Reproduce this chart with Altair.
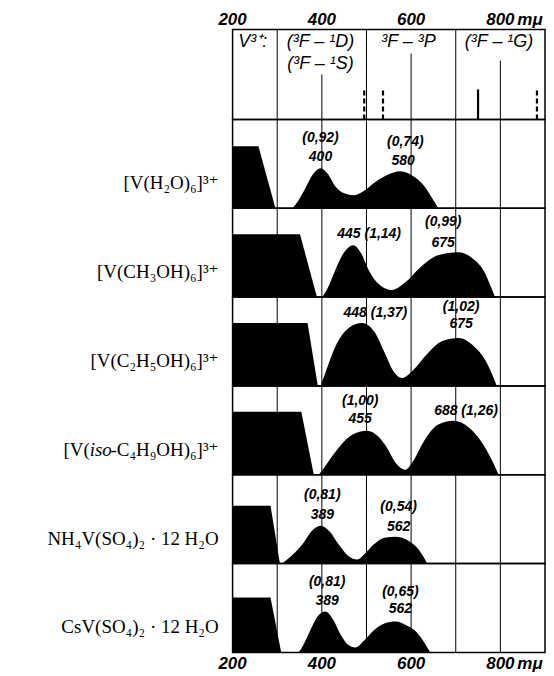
import altair as alt
import pandas as pd

# ---------------- data ----------------
GRID = [300, 400, 500, 600, 700, 800]
AXIS_WL = [200, 400, 600, 800]
AXIS_TXT = ["200", "400", "600", "800"]
UNIT = "mμ"

COMPOUNDS = [
    "[V(H₂O)₆]³⁺",
    "[V(CH₃OH)₆]³⁺",
    "[V(C₂H₅OH)₆]³⁺",
    "[V(iso-C₄H₉OH)₆]³⁺",
    "NH₄V(SO₄)₂ · 12 H₂O",
    "CsV(SO₄)₂ · 12 H₂O",
]
# the fourth name is drawn in three pieces so that "iso" can be italic
ISO_PARTS = ["[V(", "iso", "-C₄H₉OH)₆]³⁺"]

# UV absorption edge (plateau then steep drop)
EDGE_WL = [[200, 258, 296], [200, 351, 389], [200, 368, 391],
           [200, 354, 382], [200, 285, 306], [200, 285, 309]]
EDGE_H = [[62, 62, 0], [63, 63, 0], [63, 63, 0],
          [63, 63, 0], [58, 58, 0], [55, 55, 0]]

# the two d-d bands
BAND_WL = [
    [334, 345, 363, 380, 397, 414, 430, 450, 471, 493, 516, 545, 576, 605, 628, 650, 661],
    [401, 412, 430, 450, 470, 488, 505, 530, 557, 585, 621, 660, 706, 740, 762, 780, 788],
    [397, 407, 430, 460, 490, 518, 542, 560, 580, 605, 636, 670, 706, 740, 766, 785, 792],
    [393, 405, 434, 468, 501, 527, 546, 565, 587, 605, 628, 660, 695, 730, 762, 787, 796],
    [311, 325, 356, 378, 397, 418, 438, 458, 479, 497, 516, 540, 565, 590, 613, 630, 636],
    [348, 358, 375, 392, 408, 425, 442, 458, 475, 495, 516, 540, 565, 590, 613, 635, 643],
]
BAND_H = [
    [0, 6, 20, 34, 40, 34, 22, 15, 13, 17, 25, 33, 37, 32, 23, 8, 0],
    [0, 8, 27, 45, 52, 44, 27, 12, 7, 14, 30, 42, 45, 38, 27, 9, 0],
    [0, 12, 39, 58, 63, 54, 32, 15, 8, 16, 32, 45, 48, 40, 26, 8, 0],
    [0, 7, 25, 40, 44, 38, 27, 12, 5, 14, 33, 50, 54, 47, 30, 9, 0],
    [0, 5, 19, 33, 38, 32, 19, 8, 4, 10, 19, 26, 27, 24, 16, 5, 0],
    [0, 7, 23, 37, 41, 33, 18, 8, 5, 12, 22, 29, 31, 27, 20, 6, 0],
]

# peak annotations
PEAK_TEXT = [
    ["(0,92)", "400", "(0,74)", "580"],
    ["445 (1,14)", "(0,99)", "675"],
    ["448 (1,37)", "(1,02)", "675"],
    ["(1,00)", "455", "688 (1,26)"],
    ["(0,81)", "389", "(0,54)", "562"],
    ["(0,81)", "389", "(0,65)", "562"],
]
PEAK_TEXT_WL = [[397, 397, 587, 582], [506, 672, 672], [520, 712, 712],
                [486, 486, 723], [401, 401, 572, 572], [412, 412, 576, 576]]
PEAK_TEXT_H = [[70, 51, 66, 47], [63, 75, 54], [73, 79, 62],
               [74, 56, 64], [69, 49, 57, 37], [71, 52, 61, 43]]

# header: term symbols and transition markers
LEVELS = ["V³⁺:", "(³F – ¹D)", "(³F – ¹S)", "³F – ³P", "(³F – ¹G)"]
LEVEL_WL = [245, 397, 397, 594, 797]
LEVEL_H = [78, 78, 56, 78, 78]
HEADER_LINE_WL = [300, 400, 500, 600, 700, 800]
HEADER_LINE_TOP = [90, 45, 90, 66, 90, 59]
TRANS_WL = [495, 537, 750, 882]
TRANS_H = [29, 29, 30, 31]
TRANS_DASHED = [True, True, False, True]

# ---------------- chart ----------------
W = 313
PH = 89
HH = 90
XS = alt.Scale(domain=[200, 900], nice=False, zero=False)
NUM_FONT = "Liberation Sans, sans-serif"
SERIF = "Liberation Serif, DejaVu Serif, serif"


def xenc():
    return alt.X("wl:Q", scale=XS, axis=None)


def yenc(top):
    return alt.Y("h:Q", scale=alt.Scale(domain=[0, top], nice=False, zero=False), axis=None)


def axis_labels(ypix):
    df = pd.DataFrame({"wl": AXIS_WL, "t": AXIS_TXT})
    nums = alt.Chart(df).mark_text(
        font=NUM_FONT, fontSize=17, fontStyle="italic", fontWeight="bold",
        baseline="alphabetic", align="center", color="black"
    ).encode(x=xenc(), y=alt.value(ypix), text="t:N")
    unit = alt.Chart(pd.DataFrame({"wl": [AXIS_WL[-1]], "t": [UNIT]})).mark_text(
        font=NUM_FONT, fontSize=17, fontStyle="italic", fontWeight="bold",
        baseline="alphabetic", align="left", dx=17, color="black"
    ).encode(x=xenc(), y=alt.value(ypix), text="t:N")
    return [nums, unit]


def name_text(t, xpix, italic=False):
    kw = dict(font=SERIF, fontSize=19, baseline="middle", align="right", color="black")
    if italic:
        kw["fontStyle"] = "italic"
    return alt.Chart(pd.DataFrame({"t": [t]})).mark_text(**kw).encode(
        x=alt.value(xpix), y=alt.value(64), text="t:N")


# header panel
hl = pd.DataFrame({"wl": HEADER_LINE_WL, "h": [0] * len(HEADER_LINE_WL), "h2": HEADER_LINE_TOP})
tr = pd.DataFrame({"wl": TRANS_WL, "h": [0] * len(TRANS_WL), "h2": TRANS_H, "d": TRANS_DASHED})
lv = pd.DataFrame({"wl": LEVEL_WL, "h": LEVEL_H, "t": LEVELS})

header_lines = alt.Chart(hl).mark_rule(color="black", strokeWidth=1).encode(
    x=xenc(), y=yenc(HH), y2="h2:Q")
trans_dash = alt.Chart(tr).transform_filter("datum.d").mark_rule(
    color="black", strokeWidth=2.2, strokeDash=[5, 3]).encode(x=xenc(), y=yenc(HH), y2="h2:Q")
trans_solid = alt.Chart(tr).transform_filter("!datum.d").mark_rule(
    color="black", strokeWidth=2.2).encode(x=xenc(), y=yenc(HH), y2="h2:Q")
levels = alt.Chart(lv).mark_text(
    font="Liberation Sans, sans-serif", fontSize=18, fontStyle="italic",
    baseline="middle", align="center", color="black"
).encode(x=xenc(), y=yenc(HH), text="t:N")
anchor = alt.Chart(pd.DataFrame({"a": [0]})).mark_rule(
    strokeOpacity=0, strokeWidth=1).encode(
    x=alt.value(-224), x2=alt.value(-222), y=alt.value(-20), y2=alt.value(-20))

header = alt.layer(header_lines, trans_dash, trans_solid, levels, anchor,
                   *axis_labels(-5)).properties(width=W, height=HH)

panels = [header]
for i in range(6):
    grid = alt.Chart(pd.DataFrame({"wl": GRID})).mark_rule(
        color="black", strokeWidth=1).encode(x=xenc())
    edge = alt.Chart(pd.DataFrame({"wl": EDGE_WL[i], "h": EDGE_H[i]})).mark_area(
        color="black", interpolate="linear", opacity=1).encode(x=xenc(), y=yenc(PH))
    band = alt.Chart(pd.DataFrame({"wl": BAND_WL[i], "h": BAND_H[i]})).mark_area(
        color="black", interpolate="monotone", opacity=1).encode(x=xenc(), y=yenc(PH))
    ann = alt.Chart(pd.DataFrame({"wl": PEAK_TEXT_WL[i], "h": PEAK_TEXT_H[i],
                                  "t": PEAK_TEXT[i]})).mark_text(
        font=NUM_FONT, fontSize=14, fontStyle="italic", fontWeight="bold",
        baseline="middle", align="center", color="black"
    ).encode(x=xenc(), y=yenc(PH), text="t:N")
    if i == 3:
        names = [name_text(ISO_PARTS[2], -14),
                 name_text(ISO_PARTS[1], -121, italic=True),
                 name_text(ISO_PARTS[0], -143)]
    else:
        names = [name_text(COMPOUNDS[i], -14)]
    layers = [grid, edge, band, ann] + names
    if i == 5:
        layers += axis_labels(PH + 17)
    panels.append(alt.layer(*layers).properties(width=W, height=PH))

chart = alt.vconcat(*panels, spacing=0, bounds="flush").properties(
    padding=0, background="white"
).configure_view(stroke="black", strokeWidth=1.5).configure_concat(spacing=0)

chart.save("out.html", embed_options={"renderer": "svg", "actions": False})
